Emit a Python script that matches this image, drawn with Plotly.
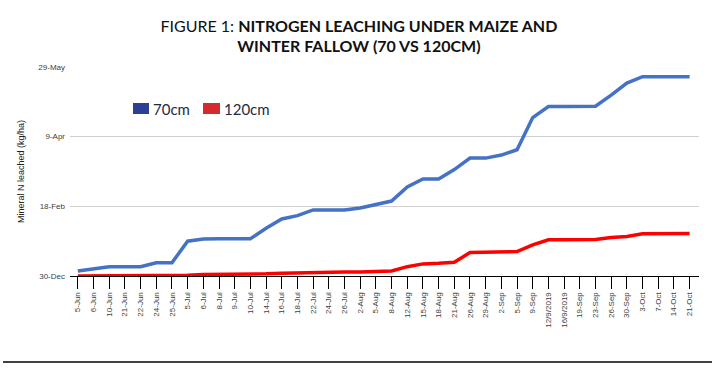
import plotly.graph_objects as go

categories = ["5-Jun", "6-Jun", "10-Jun", "21-Jun", "22-Jun", "24-Jun", "25-Jun", "5-Jul", "6-Jul", "8-Jul",
              "9-Jul", "10-Jul", "14-Jul", "16-Jul", "18-Jul", "22-Jul", "24-Jul", "26-Jul", "2-Aug", "5-Aug",
              "8-Aug", "12-Aug", "15-Aug", "18-Aug", "21-Aug", "26-Aug", "29-Aug", "2-Sep", "5-Sep", "9-Sep",
              "12/9/2019", "16/9/2019", "19-Sep", "23-Sep", "26-Sep", "30-Sep", "3-Oct", "7-Oct", "14-Oct", "21-Oct"]

n70cm = [3.6, 5.0, 6.6, 6.6, 6.6, 9.5, 9.5, 25.0, 26.6, 26.8,
         26.8, 26.8, 34.2, 40.9, 43.3, 47.4, 47.4, 47.4, 48.8, 51.4,
         53.8, 63.9, 69.7, 69.7, 76.4, 84.6, 84.6, 86.8, 90.6, 113.7,
         121.6, 121.6, 121.9, 121.9, 129.8, 138.5, 143.0, 143.0, 143.0, 143.0]

n120cm = [0, 0, 0, 0, 0, 0, 0.3, 0.6, 1.0, 1.0,
          1.0, 1.1, 1.6, 2.0, 2.3, 2.6, 2.6, 2.8, 2.8, 2.9,
          3.6, 6.7, 8.7, 9.1, 9.9, 16.8, 17.1, 17.1, 17.5, 22.4,
          26.0, 26.0, 26.2, 26.2, 27.6, 28.4, 30.3, 30.5, 30.5, 30.5]

series_names = ["70cm", "120cm"]
line_colors = ["#4472C4", "#FF0000"]
swatch_colors = ["#2B3F94", "#D42A2E"]

y_tickvals = [0, 50, 100, 150]
y_ticktext = ["30-Dec", "18-Feb", "9-Apr", "29-May"]

fig = go.Figure()
for name, vals, col in zip(series_names, [n70cm, n120cm], line_colors):
    fig.add_trace(go.Scatter(x=categories, y=vals, mode="lines", name=name,
                             line=dict(color=col, width=3.5), showlegend=False))

# legend drawn as swatches + text (paper coordinates)
legend_swatch_x = [(0.1002, 0.1256), (0.2114, 0.2385)]
legend_text_x = [0.1288, 0.2417]
shapes = []
annotations = []
for name, sc, (x0, x1), tx in zip(series_names, swatch_colors, legend_swatch_x, legend_text_x):
    shapes.append(dict(type="rect", xref="paper", yref="paper", x0=x0, x1=x1, y0=0.7751, y1=0.8278,
                       fillcolor=sc, line=dict(width=0)))
    annotations.append(dict(text=name, xref="paper", yref="paper", x=tx, y=0.8014,
                            xanchor="left", yanchor="middle", showarrow=False,
                            font=dict(family="Lato", size=15, color="#1F2A44")))

shapes.append(dict(type="line", xref="paper", yref="paper",
                   x0=-0.1065, x1=1.0207, y0=-0.411, y1=-0.411,
                   line=dict(color="black", width=1.5)))

fig.update_layout(
    width=715, height=372,
    margin=dict(l=70, r=16, t=67, b=96),
    paper_bgcolor="white", plot_bgcolor="white",
    font=dict(family="Liberation Sans, Arial", size=8, color="#404040"),
    showlegend=False,
    title=dict(
        text="FIGURE 1: <b>NITROGEN LEACHING UNDER MAIZE AND</b><br><b>WINTER FALLOW (70 VS 120CM)</b>",
        x=0.502, xref="container", xanchor="center",
        y=0.915, yref="container", yanchor="top",
        font=dict(family="Lato", size=16, color="#111111"),
    ),
    xaxis=dict(
        type="category", range=[-0.5, 39.6],
        showline=True, linecolor="black", linewidth=1,
        ticks="outside", ticklen=12, tickcolor="black", tickwidth=1,
        tickangle=-90, showgrid=False,
        tickfont=dict(size=8, color="#404040"),
    ),
    yaxis=dict(
        range=[0, 150], tickvals=y_tickvals, ticktext=y_ticktext,
        showgrid=True, gridcolor="#D0D0D0", gridwidth=1, zeroline=False,
        showline=False, ticks="", ticklabelstandoff=4,
        tickfont=dict(size=8, color="#404040"),
        title=dict(text="Mineral N leached (kg/ha)", font=dict(size=9, color="#202020"), standoff=12),
    ),
    shapes=shapes,
    annotations=annotations,
)

fig.write_html("out.html", config={"displayModeBar": False},
               post_script="document.body.style.margin='0';")
